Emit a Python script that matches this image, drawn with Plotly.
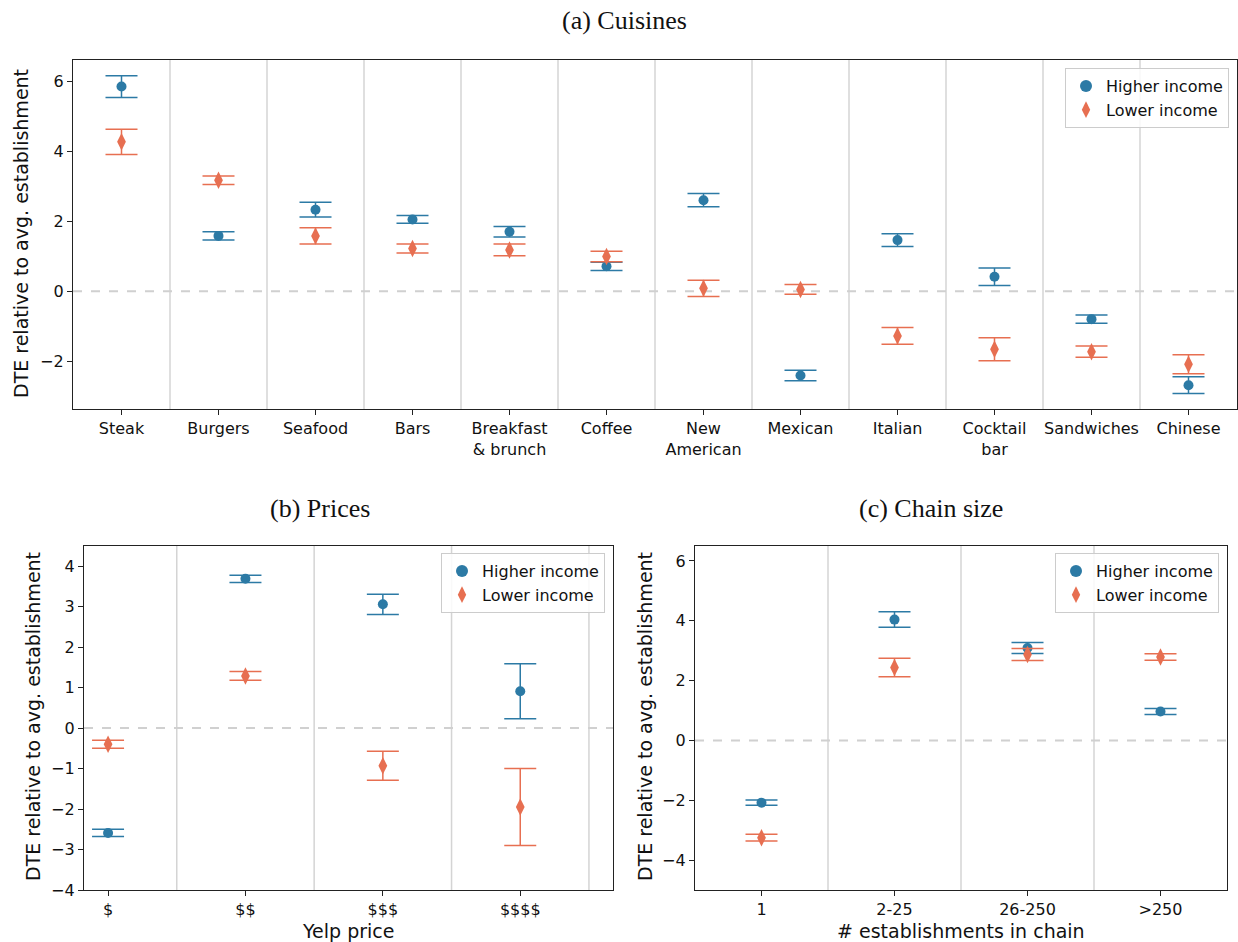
import plotly.graph_objects as go

# ---------------- data ----------------
cuisines = ["Steak", "Burgers", "Seafood", "Bars", "Breakfast<br>& brunch", "Coffee",
            "New<br>American", "Mexican", "Italian", "Cocktail<br>bar", "Sandwiches", "Chinese"]
cuisine_hi = [5.85, 1.58, 2.33, 2.05, 1.70, 0.71, 2.60, -2.41, 1.46, 0.41, -0.80, -2.69]
cuisine_hi_err = [0.31, 0.12, 0.21, 0.11, 0.15, 0.12, 0.19, 0.15, 0.18, 0.25, 0.12, 0.24]
cuisine_lo = [4.27, 3.17, 1.58, 1.22, 1.18, 0.99, 0.08, 0.05, -1.28, -1.66, -1.73, -2.09]
cuisine_lo_err = [0.36, 0.12, 0.23, 0.13, 0.17, 0.15, 0.23, 0.14, 0.24, 0.33, 0.16, 0.27]

prices = ["$", "$$", "$$$", "$$$$"]
price_hi = [-2.59, 3.69, 3.06, 0.91]
price_hi_err = [0.09, 0.09, 0.25, 0.68]
price_lo = [-0.40, 1.29, -0.93, -1.95]
price_lo_err = [0.10, 0.11, 0.36, 0.95]

chains = ["1", "2-25", "26-250", ">250"]
chain_hi = [-2.08, 4.04, 3.09, 0.97]
chain_hi_err = [0.09, 0.26, 0.18, 0.10]
chain_lo = [-3.25, 2.44, 2.87, 2.79]
chain_lo_err = [0.11, 0.31, 0.20, 0.11]

BLUE = "#2c7aa5"
ORANGE = "#e76f51"
SANS = "DejaVu Sans"
SERIF = "Liberation Serif"

fig = go.Figure()


def add_pair(xs, hi, hi_err, lo, lo_err, xa, ya, leg):
    idx = list(range(len(xs)))
    fig.add_trace(go.Scatter(
        x=idx, y=hi, mode="markers", name="Higher income",
        marker=dict(color=BLUE, size=10, symbol="circle"),
        error_y=dict(type="data", array=hi_err, color=BLUE, thickness=1.5, width=16),
        xaxis=xa, yaxis=ya, legend=leg))
    fig.add_trace(go.Scatter(
        x=idx, y=lo, mode="markers", name="Lower income",
        marker=dict(color=ORANGE, size=12.5, symbol="diamond-tall"),
        error_y=dict(type="data", array=lo_err, color=ORANGE, thickness=1.5, width=16),
        xaxis=xa, yaxis=ya, legend=leg))


add_pair(cuisines, cuisine_hi, cuisine_hi_err, cuisine_lo, cuisine_lo_err, "x", "y", "legend")
add_pair(prices, price_hi, price_hi_err, price_lo, price_lo_err, "x2", "y2", "legend2")
add_pair(chains, chain_hi, chain_hi_err, chain_lo, chain_lo_err, "x3", "y3", "legend3")

axis_common = dict(showline=True, mirror=True, linecolor="#222", linewidth=1.3,
                   ticks="outside", ticklen=5, tickwidth=1.3, tickcolor="#222",
                   showgrid=False, zeroline=False, automargin=False,
                   tickfont=dict(family=SANS, size=16, color="#111"))

W, H = 1238, 942


def px_x(a, b):
    return [a / W, b / W]


def px_y(top, bottom):
    return [1 - bottom / H, 1 - top / H]


fig.update_layout(
    width=W, height=H, margin=dict(l=0, r=0, t=0, b=0, autoexpand=False),
    plot_bgcolor="white", paper_bgcolor="white",
    xaxis=dict(domain=px_x(73, 1237), range=[-0.5, 11.5], anchor="y",
               tickmode="array", tickvals=list(range(len(cuisines))), ticktext=cuisines, **axis_common),
    yaxis=dict(domain=px_y(60, 409), range=[-3.37, 6.61], anchor="x",
               tickmode="array", tickvals=[-2, 0, 2, 4, 6], **axis_common),
    xaxis2=dict(domain=px_x(84, 613), range=[-0.175, 3.675], anchor="y2",
                tickmode="array", tickvals=list(range(len(prices))), ticktext=prices, **axis_common),
    yaxis2=dict(domain=px_y(546, 890), range=[-4, 4.5], anchor="x2",
                tickmode="array", tickvals=[-4, -3, -2, -1, 0, 1, 2, 3, 4], **axis_common),
    xaxis3=dict(domain=px_x(695, 1227), range=[-0.5, 3.5], anchor="y3",
                tickmode="array", tickvals=list(range(len(chains))), ticktext=chains, **axis_common),
    yaxis3=dict(domain=px_y(546, 890), range=[-5, 6.5], anchor="x3",
                tickmode="array", tickvals=[-4, -2, 0, 2, 4, 6], **axis_common),
)

leg_common = dict(bgcolor="rgba(255,255,255,0.85)", bordercolor="#cccccc", borderwidth=1,
                  font=dict(family=SANS, size=16, color="#111"), xanchor="right", yanchor="top",
                  tracegroupgap=0, itemsizing="constant")
fig.update_layout(
    legend=dict(x=1229 / W, y=1 - 68 / H, **leg_common),
    legend2=dict(x=605 / W, y=1 - 553 / H, **leg_common),
    legend3=dict(x=1219 / W, y=1 - 553 / H, **leg_common),
)

shapes = []


def vlines(xref, yref, positions):
    for p in positions:
        shapes.append(dict(type="line", xref=xref, yref=yref + " domain", x0=p, x1=p, y0=0, y1=1,
                           line=dict(color="#d4d4d4", width=1.5), layer="below"))


def zero_line(xref, yref):
    shapes.append(dict(type="line", xref=xref + " domain", yref=yref, x0=0, x1=1, y0=0, y1=0,
                       line=dict(color="#d0d0d0", width=2, dash="dash"), layer="below"))


vlines("x", "y", [i + 0.5 for i in range(len(cuisines) - 1)])
vlines("x2", "y2", [i + 0.5 for i in range(len(prices))])
vlines("x3", "y3", [i + 0.5 for i in range(len(chains) - 1)])
zero_line("x", "y")
zero_line("x2", "y2")
zero_line("x3", "y3")
fig.update_layout(shapes=shapes)

ann = []
ytitle = "DTE relative to avg. establishment"
for xc, yc in [(21, 234), (33, 717), (645, 717)]:
    ann.append(dict(text=ytitle, x=xc / W, y=1 - yc / H, xref="paper", yref="paper",
                    textangle=-90, showarrow=False, xanchor="center", yanchor="middle",
                    font=dict(family=SANS, size=19, color="#111")))
for txt, xc, yc in [("Yelp price", 348, 931), ("# establishments in chain", 961, 931)]:
    ann.append(dict(text=txt, x=xc / W, y=1 - yc / H, xref="paper", yref="paper",
                    showarrow=False, xanchor="center", yanchor="middle",
                    font=dict(family=SANS, size=19, color="#111")))
for txt, xc, yc in [("(a) Cuisines", 624, 21), ("(b) Prices", 320, 508), ("(c) Chain size", 931, 508)]:
    ann.append(dict(text=txt, x=xc / W, y=1 - yc / H, xref="paper", yref="paper",
                    showarrow=False, xanchor="center", yanchor="middle",
                    font=dict(family=SERIF, size=26, color="#111")))
fig.update_layout(annotations=ann)

fig.write_html("out.html")
